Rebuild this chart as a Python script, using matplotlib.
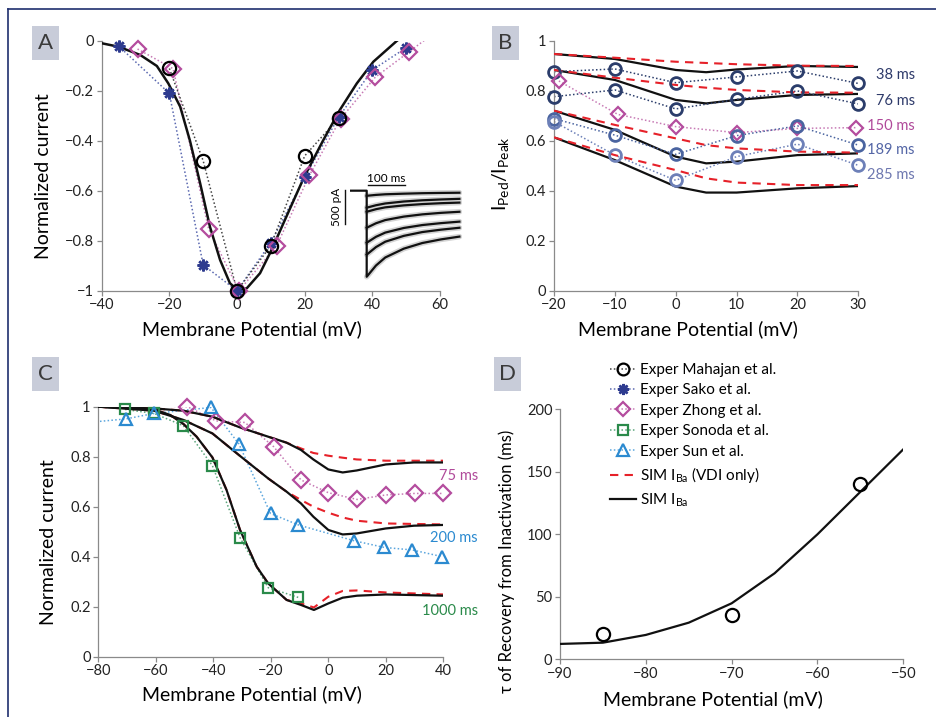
import matplotlib
matplotlib.use('Agg')
import matplotlib.pyplot as plt
from matplotlib.lines import Line2D
from matplotlib.patches import Rectangle
from matplotlib.ticker import FuncFormatter
import numpy as np

plt.rcParams['font.family'] = ['Lato', 'DejaVu Sans']
plt.rcParams['mathtext.default'] = 'regular'

# ---------------- Panel A : I-V ----------------
a_mahajan_v = [-20, -10, 0, 10, 20, 30]
a_mahajan_i = [-0.11, -0.48, -1.0, -0.82, -0.46, -0.31]
a_sako_v = [-35, -20, -10, 0, 10, 20, 30, 40, 50]
a_sako_i = [-0.02, -0.21, -0.897, -1.0, -0.808, -0.546, -0.306, -0.116, -0.027]
a_zhong_v = [-29.4, -18.9, -8.4, 0.6, 11.7, 21.4, 30.6, 40.8, 50.8, 60]
a_zhong_i = [-0.032, -0.111, -0.753, -1.0, -0.82, -0.538, -0.312, -0.146, -0.044, 0.05]
a_sim_v = [-40, -35, -28.6, -23.7, -20.3, -16.8, -13.9, -10.9, -8, -5, -2.1, 0.4,
           2.9, 6.8, 10.2, 14.7, 19.9, 25.5, 30.4, 35.4, 40.3, 47.2, 52]
a_sim_i = [-0.009, -0.023, -0.056, -0.10, -0.17, -0.263, -0.40, -0.57, -0.744, -0.877,
           -0.97, -1.0, -0.99, -0.93, -0.837, -0.70, -0.543, -0.397, -0.276, -0.17,
           -0.083, 0.0, 0.05]

# inset current traces (ms, pA)
ins_t = [0, 25, 50, 100, 150, 200, 250]
ins_traces = [
    [-75, -62, -53, -44, -37, -33, -30],
    [-250, -214, -188, -159, -141, -129, -120],
    [-310, -272, -245, -216, -197, -184, -175],
    [-545, -479, -432, -381, -348, -326, -310],
    [-765, -678, -616, -548, -505, -477, -455],
    [-940, -829, -750, -664, -608, -573, -545],
    [-1265, -1100, -982, -852, -769, -716, -675],
]

# ---------------- Panel B ----------------
b_v = [-20, -10, 0, 10, 20, 30]
b_38 = [0.877, 0.888, 0.833, 0.856, 0.880, 0.830]
b_76 = [0.777, 0.804, 0.728, 0.766, 0.800, 0.748]
b_150_v = [-19.2, -9.5, 0, 10, 20, 29.7]
b_150 = [0.840, 0.706, 0.657, 0.633, 0.650, 0.653]
b_189 = [0.689, 0.623, 0.546, 0.621, 0.660, 0.583]
b_285 = [0.677, 0.543, 0.442, 0.537, 0.587, 0.502]
b_sim_v = [-20, -10, 0, 5, 10, 20, 30]
b_sim = [
    [0.948, 0.928, 0.884, 0.875, 0.886, 0.900, 0.896],
    [0.884, 0.844, 0.764, 0.750, 0.764, 0.784, 0.788],
    [0.721, 0.644, 0.537, 0.510, 0.517, 0.543, 0.550],
    [0.614, 0.523, 0.417, 0.393, 0.393, 0.410, 0.419],
]
b_vdi = [
    [0.948, 0.933, 0.917, 0.912, 0.907, 0.901, 0.900],
    [0.884, 0.853, 0.824, 0.813, 0.804, 0.794, 0.793],
    [0.721, 0.664, 0.610, 0.583, 0.570, 0.557, 0.553],
    [0.614, 0.543, 0.483, 0.450, 0.433, 0.423, 0.423],
]
b_labels = ['38 ms', '76 ms', '150 ms', '189 ms', '285 ms']

# ---------------- Panel C ----------------
c_zhong_v = [-59, -49, -39, -29, -19, -9.5, 0, 10, 20, 30, 40]
c_zhong = [1.003, 1.0, 0.943, 0.937, 0.84, 0.707, 0.656, 0.629, 0.647, 0.653, 0.653]
c_sun_v = [-90, -70.5, -60.6, -40.8, -31.1, -20.1, -10.4, 8.9, 19.5, 29.2, 39.7]
c_sun = [0.93, 0.951, 0.973, 0.997, 0.851, 0.573, 0.527, 0.464, 0.437, 0.427, 0.40]
c_sonoda_v = [-70.7, -60.6, -50.4, -40.3, -30.7, -20.9, -10.4]
c_sonoda = [0.989, 0.973, 0.924, 0.764, 0.476, 0.276, 0.237]
c_sim75_v = [-80, -60.6, -50.4, -40.3, -30.7, -20.9, -14.5, -9.5, -5.2, 0, 5, 9.9, 20, 29.8, 40]
c_sim75 = [1.0, 0.993, 0.984, 0.96, 0.917, 0.88, 0.856, 0.827, 0.789, 0.749, 0.737, 0.745, 0.769, 0.777, 0.777]
c_vdi75_v = [-80, -60.6, -50.4, -40.3, -30.7, -20.9, -14.5, -9.5, -5.2, 0, 5, 9.9, 20, 40]
c_vdi75 = [1.0, 0.993, 0.984, 0.96, 0.917, 0.88, 0.856, 0.833, 0.815, 0.804, 0.796, 0.789, 0.784, 0.784]
c_sim200_v = [-80, -60.6, -50.4, -40.3, -30.7, -20.9, -14.5, -9.5, -5.2, 0, 5, 9.9, 20, 29.8, 40]
c_sim200 = [1.0, 0.984, 0.947, 0.893, 0.803, 0.713, 0.66, 0.613, 0.56, 0.507, 0.489, 0.493, 0.513, 0.524, 0.527]
c_vdi200_v = [-80, -60.6, -50.4, -40.3, -30.7, -20.9, -14.5, -9.5, -5.2, 0, 5, 9.9, 20, 40]
c_vdi200 = [1.0, 0.984, 0.947, 0.893, 0.803, 0.713, 0.66, 0.627, 0.60, 0.576, 0.557, 0.544, 0.533, 0.529]
c_sim1000_v = [-80, -60.6, -55, -50.4, -45.8, -40.3, -35.4, -30.7, -24.9, -20.9, -14.5, -9.5, -5, 0, 5, 10, 20, 40]
c_sim1000 = [1.0, 0.989, 0.967, 0.931, 0.88, 0.797, 0.667, 0.507, 0.36, 0.293, 0.227, 0.207, 0.187, 0.213, 0.236, 0.244, 0.249, 0.244]
c_vdi1000_v = [-80, -60.6, -55, -50.4, -45.8, -40.3, -35.4, -30.7, -24.9, -20.9, -14.5, -9.5, -5, 0, 5, 10, 20, 40]
c_vdi1000 = [1.0, 0.989, 0.967, 0.931, 0.88, 0.797, 0.667, 0.507, 0.36, 0.293, 0.227, 0.213, 0.197, 0.24, 0.263, 0.265, 0.257, 0.249]
c_labels = ['75 ms', '200 ms', '1000 ms']

# ---------------- Panel D ----------------
d_exp_v = [-85, -70, -55]
d_exp_tau = [20.3, 35.5, 140.3]
d_sim_v = [-90, -85, -80, -75, -70, -65, -60, -55, -50]
d_sim_tau = [12.3, 13.3, 19.5, 29.3, 44.8, 68.8, 100, 134, 168]

legend_labels = ['Exper Mahajan et al.', 'Exper Sako et al.', 'Exper Zhong et al.',
                 'Exper Sonoda et al.', 'Exper Sun et al.',
                 'SIM I$_{Ba}$ (VDI only)', 'SIM I$_{Ba}$']

# ---------------- styles ----------------
BLACK = '#111111'
RED = '#e62129'
C_MAH = '#000000'
C_SAKO = '#2e3b8f'
C_ZHONG = '#b44c9e'
C_SONODA = '#2a8a4a'
C_SUN = '#2b8ad0'
C_NAVY = '#2b3d6b'
C_189 = '#4a64a0'
C_285 = '#6d80b8'
SPINE = '#8a8a8a'
DOT = (0, (1, 1.5))

W, H = 937, 717
fig = plt.figure(figsize=(W / 100, H / 100), dpi=100)


def px_axes(x0, x1, ytop, ybot):
    return fig.add_axes([x0 / W, 1 - ybot / H, (x1 - x0) / W, (ybot - ytop) / H])


def fmt(v, p):
    v = round(v, 6)
    if v == 0:
        return '0'
    return ('%g' % v).replace('-', '\u2212')


def style(ax, xlim, ylim, xt, yt):
    ax.set_xlim(xlim)
    ax.set_ylim(ylim)
    for s in ['top', 'right']:
        ax.spines[s].set_visible(False)
    for s in ['left', 'bottom']:
        ax.spines[s].set_color(SPINE)
        ax.spines[s].set_linewidth(0.9)
    ax.set_xticks(xt)
    ax.set_yticks(yt)
    ax.xaxis.set_major_formatter(FuncFormatter(fmt))
    ax.yaxis.set_major_formatter(FuncFormatter(fmt))
    ax.tick_params(direction='out', length=3.5, width=0.9, color=SPINE,
                   labelsize=10.5, labelcolor='#222222', pad=2)
    ax.patch.set_visible(False)


def exper(ax, x, y, color, marker, ms, mew=1.6, lcolor=None):
    ax.plot(x, y, ls=DOT, lw=1.1, color=lcolor or color, clip_on=True, zorder=2)
    xl, yl = ax.get_xlim(), ax.get_ylim()
    x = np.asarray(x, float)
    y = np.asarray(y, float)
    m = (x >= xl[0] - 1e-9) & (x <= xl[1] + 1e-9) & (y >= yl[0] - 1e-9) & (y <= yl[1] + 1e-9)
    ax.plot(x[m], y[m], ls='none', marker=marker, ms=ms, mfc='none', mec=color,
            mew=mew, clip_on=False, zorder=5)


def panel_box(x0, y0, letter):
    fig.add_artist(Rectangle((x0 / W, 1 - (y0 + 34) / H), 27 / W, 34 / H,
                             transform=fig.transFigure, fc='#c8ccd9', ec='none'))
    fig.text((x0 + 13.5) / W, 1 - (y0 + 17) / H, letter, ha='center', va='center',
             fontsize=16, color='#3a3a3a')


LBL = 14

# frame
fig.add_artist(Line2D([8 / W, 1], [1 - 9 / H, 1 - 9 / H], transform=fig.transFigure,
                      color='#1f2f6e', lw=1.2))
fig.add_artist(Line2D([8 / W, 8 / W], [1 - 9 / H, 0], transform=fig.transFigure,
                      color='#1f2f6e', lw=1.2))

# ================= A =================
axA = px_axes(101.7, 440, 41, 290.7)
style(axA, (-40, 60), (-1, 0), [-40, -20, 0, 20, 40, 60], [-1, -0.8, -0.6, -0.4, -0.2, 0])
exper(axA, a_sako_v, a_sako_i, C_SAKO, (8, 2, 0), 8.5, mew=1.8, lcolor='#5a68b0')
exper(axA, a_zhong_v, a_zhong_i, C_ZHONG, 'D', 8, lcolor='#c77ab5')
exper(axA, a_mahajan_v, a_mahajan_i, C_MAH, 'o', 9.5, lcolor='#444444')
axA.plot(a_sim_v, a_sim_i, color=BLACK, lw=1.8, zorder=3)
axA.set_xlabel('Membrane Potential (mV)', fontsize=LBL)
axA.set_ylabel('Normalized current', fontsize=LBL)
axA.xaxis.set_label_coords(0.444, -0.118)
axA.yaxis.set_label_coords(-0.147, 0.457)
panel_box(32, 26, 'A')

# inset
ins = px_axes(350, 462, 180, 282)
ins.axis('off')
ins.set_xlim(-45, 257)
ins.set_ylim(-1342, 157)
for tr in ins_traces:
    ins.plot(ins_t, tr, color='#d4d4d4', lw=4, solid_capstyle='round', zorder=1)
for i, tr in enumerate(ins_traces):
    if i == len(ins_traces) - 1:
        ins.plot([-45, 0, 0] + ins_t[1:], [0, 0, tr[0]] + tr[1:], color=BLACK, lw=1.6, zorder=2)
    else:
        ins.plot(ins_t, tr, color=BLACK, lw=1.6, zorder=2)
ins.plot([3.5, 103.5], [84, 84], color=BLACK, lw=1.0, clip_on=False)
ins.text(53.5, 100, '100 ms', ha='center', va='bottom', fontsize=8.5)
ins.plot([-59, -59], [10, -490], color=BLACK, lw=1.0, clip_on=False)
ins.text(-66, -240, '500 pA', ha='right', va='center', rotation=90, fontsize=8.5)

# ================= B =================
axB = px_axes(554, 858.3, 41, 290.7)
style(axB, (-20, 30), (0, 1), [-20, -10, 0, 10, 20, 30], [0, 0.2, 0.4, 0.6, 0.8, 1])
for ys in b_vdi:
    axB.plot(b_sim_v, ys, color=RED, lw=1.5, dashes=(4, 3), zorder=3)
for ys in b_sim:
    axB.plot(b_sim_v, ys, color=BLACK, lw=1.6, zorder=2)
exper(axB, b_v, b_38, C_NAVY, 'o', 8.5, mew=2)
exper(axB, b_v, b_76, C_NAVY, 'o', 8.5, mew=2)
exper(axB, b_150_v, b_150, C_ZHONG, 'D', 7.5, lcolor='#c77ab5')
exper(axB, b_v, b_189, C_189, 'o', 8.5, mew=2)
exper(axB, b_v, b_285, C_285, 'o', 8.5, mew=2)
axB.set_xlabel('Membrane Potential (mV)', fontsize=LBL)
axB.set_ylabel('I$_{Ped}$/I$_{Peak}$', fontsize=LBL)
axB.xaxis.set_label_coords(0.44, -0.118)
axB.yaxis.set_label_coords(-0.14, 0.47)
b_lab_y = [75, 100.7, 126, 150, 175]
b_lab_c = ['#2e3a6a', '#2e3a6a', '#b04a9a', '#5466a6', '#6e78b0']
for t, yy, cc in zip(b_labels, b_lab_y, b_lab_c):
    fig.text(915 / W, 1 - yy / H, t, ha='right', va='center', fontsize=10.5, color=cc)
panel_box(492, 26, 'B')

# ================= C =================
axC = px_axes(98.3, 443.3, 406.7, 656.7)
style(axC, (-80, 40), (0, 1), [-80, -60, -40, -20, 0, 20, 40], [0, 0.2, 0.4, 0.6, 0.8, 1])
for vv, yy in [(c_vdi75_v, c_vdi75), (c_vdi200_v, c_vdi200), (c_vdi1000_v, c_vdi1000)]:
    axC.plot(vv, yy, color=RED, lw=1.5, dashes=(4, 3), zorder=2)
for vv, yy in [(c_sim75_v, c_sim75), (c_sim200_v, c_sim200), (c_sim1000_v, c_sim1000)]:
    axC.plot(vv, yy, color=BLACK, lw=1.6, zorder=3)
exper(axC, c_zhong_v, c_zhong, C_ZHONG, 'D', 8, lcolor='#c77ab5')
exper(axC, c_sonoda_v, c_sonoda, C_SONODA, 's', 7, lcolor='#5aa57a')
exper(axC, c_sun_v, c_sun, C_SUN, '^', 9, lcolor='#5aa5dd')
axC.set_xlabel('Membrane Potential (mV)', fontsize=LBL)
axC.set_ylabel('Normalized current', fontsize=LBL)
axC.xaxis.set_label_coords(0.445, -0.116)
axC.yaxis.set_label_coords(-0.12, 0.46)
c_lab_y = [476, 538, 611]
c_lab_c = ['#b04a9a', '#2b8ad0', '#2a8a4a']
for t, yy, cc in zip(c_labels, c_lab_y, c_lab_c):
    fig.text(478 / W, 1 - yy / H, t, ha='right', va='center', fontsize=10.5, color=cc)
panel_box(32, 357, 'C')

# ================= D =================
axD = px_axes(560, 903.3, 409.3, 659.3)
style(axD, (-90, -50), (0, 200), [-90, -80, -70, -60, -50], [0, 50, 100, 150, 200])
axD.plot(d_sim_v, d_sim_tau, color=BLACK, lw=1.6, zorder=3)
exper(axD, d_exp_v, d_exp_tau, C_MAH, 'o', 9.5, lcolor='none')
axD.set_xlabel('Membrane Potential (mV)', fontsize=LBL)
axD.set_ylabel('\u03c4 of Recovery from Inactivation (ms)', fontsize=12)
axD.xaxis.set_label_coords(0.446, -0.122)
axD.yaxis.set_label_coords(-0.131, 0.39)
panel_box(494, 357, 'D')

handles = [
    Line2D([], [], ls=DOT, lw=1.1, color='#444444', marker='o', ms=8.5, mfc='none', mec=C_MAH, mew=1.6),
    Line2D([], [], ls=DOT, lw=1.1, color='#5a68b0', marker=(8, 2, 0), ms=8, mec=C_SAKO, mew=1.8),
    Line2D([], [], ls=DOT, lw=1.1, color='#c77ab5', marker='D', ms=7.5, mfc='none', mec=C_ZHONG, mew=1.6),
    Line2D([], [], ls=DOT, lw=1.1, color='#5aa57a', marker='s', ms=6.5, mfc='none', mec=C_SONODA, mew=1.6),
    Line2D([], [], ls=DOT, lw=1.1, color='#5aa5dd', marker='^', ms=8.5, mfc='none', mec=C_SUN, mew=1.6),
    Line2D([], [], color=RED, lw=1.5, dashes=(4, 3)),
    Line2D([], [], color=BLACK, lw=1.6),
]
fig.legend(handles, legend_labels, loc='upper left', bbox_to_anchor=(610 / W, 1 - 363 / H),
           frameon=False, fontsize=11, handlelength=1.7, handletextpad=0.25,
           labelspacing=0.42, borderpad=0, borderaxespad=0)

fig.savefig('out.png', dpi=100)
